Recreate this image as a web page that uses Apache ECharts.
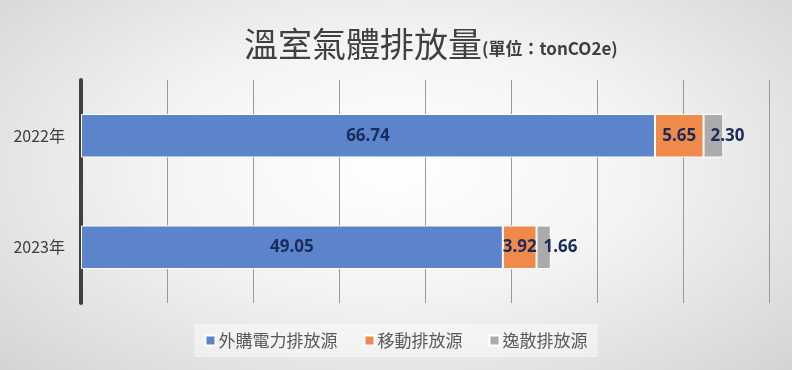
<!DOCTYPE html>
<html><head><meta charset="utf-8">
<script src="https://cdn.jsdelivr.net/npm/echarts@6/dist/echarts.min.js"></script>
<style>
html,body{margin:0;padding:0;}
#c{width:792px;height:370px;background:radial-gradient(ellipse 75% 85% at 50% 45%, #ffffff 0%, #f4f4f4 40%, #dcdcdc 80%, #cfcfcf 100%);}
</style></head>
<body><div id="c"></div>
<script>
const categories = ['2022年', '2023年'];
const seriesNames = ['外購電力排放源', '移動排放源', '逸散排放源'];
const electricity = [66.74, 49.05];
const mobile = [5.65, 3.92];
const fugitive = [2.30, 1.66];
const xTicks = [0, 10, 20, 30, 40, 50, 60, 70, 80];

const chart = echarts.init(document.getElementById('c'));
const labelBase = {show:true, color:'#1a2c5c', fontWeight:'bold', fontSize:17, fontFamily:'Noto Sans', formatter: p => p.value.toFixed(2)};
chart.setOption({
  backgroundColor:'transparent',
  animation:false,
  title:{
    left:239, top:10,
    text:'{a|溫室氣體排放量}{b|(單位：tonCO2e)}',
    textStyle:{fontWeight:'normal', rich:{
      a:{fontSize:34, color:'#404040', fontWeight:'normal', fontFamily:'Noto Sans CJK TC', verticalAlign:'bottom', lineHeight:46},
      b:{fontSize:17, color:'#404040', fontWeight:'bold', fontFamily:'Noto Sans CJK TC', verticalAlign:'bottom', lineHeight:30, padding:[0,0,4,0]}
    }}
  },
  legend:{
    data:seriesNames, bottom:13, left:'center',
    itemWidth:10, itemHeight:10, itemGap:26, icon:'rect',
    textStyle:{fontSize:17, color:'#595959', fontFamily:'Noto Sans CJK TC', padding:[0,0,0,-2]},
    backgroundColor:'rgba(255,255,255,0.45)', padding:[8,10]
  },
  grid:{left:81, right:23, top:80, bottom:67},
  xAxis:{
    type:'value', min:xTicks[0], max:xTicks[xTicks.length-1], interval:10,
    axisLabel:{show:false}, axisLine:{show:false}, axisTick:{show:false},
    splitLine:{lineStyle:{color:'#9a9a9a', width:1}}
  },
  yAxis:{
    type:'category', data:categories, inverse:true,
    axisLine:{show:true, lineStyle:{color:'#404040', width:4}},
    axisTick:{show:false},
    axisLabel:{fontSize:16, color:'#404040', fontFamily:'Noto Sans CJK TC', margin:16}
  },
  series:[
    {name:seriesNames[0], type:'bar', stack:'t', data:electricity, barWidth:'39%',
     itemStyle:{color:'#5B84CA', borderColor:'#ffffff', borderWidth:1},
     label:Object.assign({position:'inside'}, labelBase)},
    {name:seriesNames[1], type:'bar', stack:'t', data:mobile,
     itemStyle:{color:'#EF8A4A', borderColor:'#ffffff', borderWidth:1},
     label:Object.assign({position:'inside'}, labelBase)},
    {name:seriesNames[2], type:'bar', stack:'t', data:fugitive,
     itemStyle:{color:'#ABABAB', borderColor:'#ffffff', borderWidth:1},
     label:Object.assign({position:'insideLeft', distance:7}, labelBase)}
  ]
});
</script></body></html>
